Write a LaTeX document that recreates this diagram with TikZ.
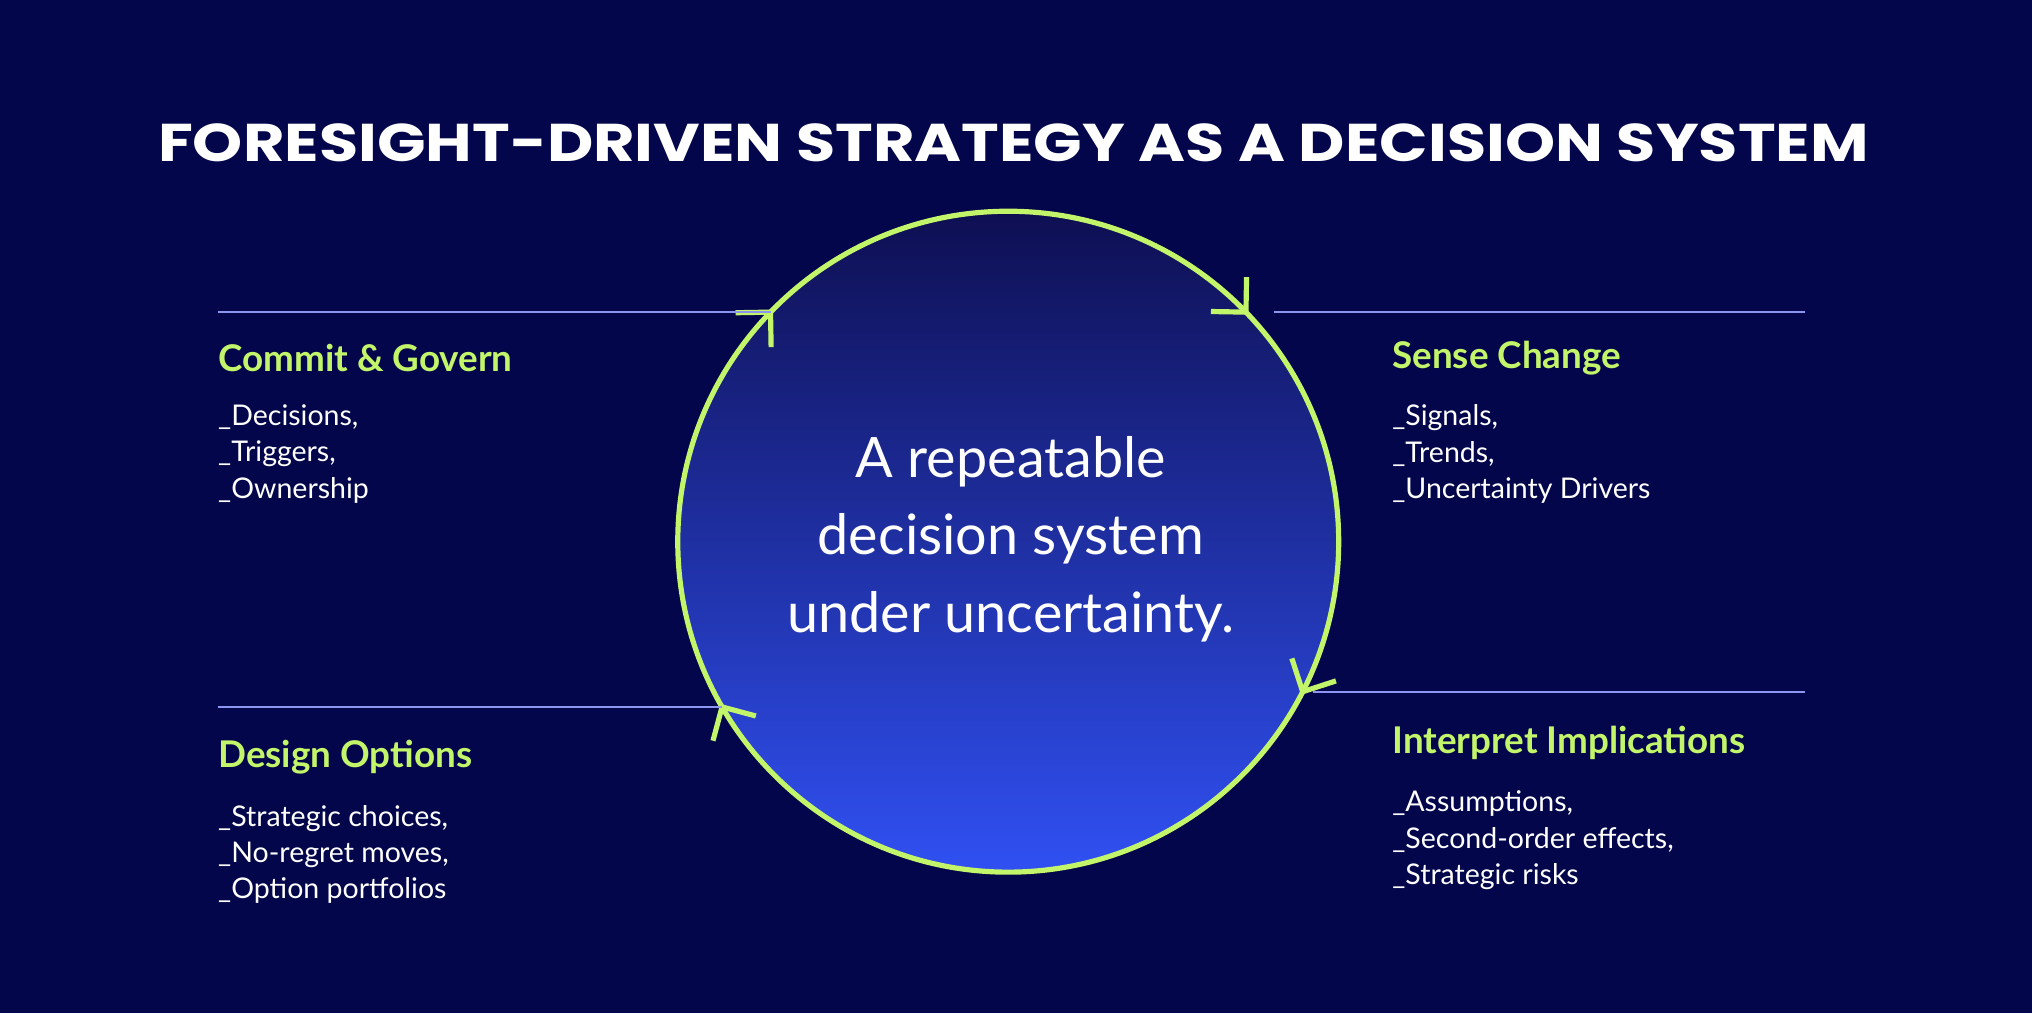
\documentclass[tikz,border=0pt]{standalone}
\usepackage{fontspec}
\usepackage{graphicx}
\usetikzlibrary{calc}
\setmainfont{Lato}
\newfontfamily\titlefont{Poppins}
\definecolor{bg}{HTML}{03064A}
\definecolor{lime}{HTML}{C3F56A}
\definecolor{rule}{HTML}{8C96F0}
\definecolor{ctop}{HTML}{0E0F52}
\definecolor{cbot}{HTML}{3050F2}
\begin{document}
\begin{tikzpicture}[x=0.5pt,y=0.5pt,
  head/.style={anchor=west,inner sep=0,text=lime,font=\fontsize{14.2}{16}\selectfont\bfseries},
  items/.style={anchor=north west,inner sep=0,text=white,align=left,font=\fontsize{11}{14}\selectfont},
  sep/.style={draw=rule,line width=0.8pt},
  chev/.style={draw=lime,line width=2pt,line cap=butt}]
\fill[bg] (0,0) rectangle (1568,782);
\useasboundingbox (0,0) rectangle (1568,782);
\node[text=white,font=\titlefont\fontsize{20.5}{24}\selectfont\bfseries] (title) at (782,672) {\scalebox{1.2}[1]{FORESIGHT-DRIVEN STRATEGY AS A DECISION SYSTEM}};
% circle
\coordinate (c) at (778,364);
\begin{scope}
\clip (c) circle (255);
\shade[top color=ctop,bottom color=cbot] (523,109) rectangle (1033,619);
\end{scope}
\node[circle,draw=lime,line width=2pt,minimum size=255pt,inner sep=0] (cyc) at (c) {};
\node[text=white,align=center,font=\fontsize{21.5}{30}\selectfont] (mid) at (780,366) {A repeatable\\decision system\\under uncertainty.};
% chevrons
\foreach \t/\n in {136/a,44/b,-27/d,210/e}{
  \coordinate (\n) at ($(c)+(\t:255)$);
  \draw[chev] ($(\n)+(\t+45:27)$) -- (\n) -- ($(\n)+(\t+135:27)$);
}
% rules
\coordinate (l1) at (168,0); \draw[sep] (l1 |- a) -- (a);
\coordinate (r1) at (1393,0); \coordinate (b1) at ($(b)+(22,0)$); \draw[sep] (b1) -- (r1 |- b1);
\coordinate (d1) at ($(d)+(8,0)$); \draw[sep] (d1) -- (r1 |- d1);
\draw[sep] (l1 |- e) -- (e);
% texts
\node[head] (h1) at (168,506) {Commit \& Govern};
\node[items] (i1) at (168,470) {\_Decisions,\\\_Triggers,\\\_Ownership};
\node[head] (h2) at (1074,506) {Sense Change};
\node[items] (i2) at (1074,470) {\_Signals,\\\_Trends,\\\_Uncertainty Drivers};
\node[head] (h3) at (168,198) {Design Options};
\node[items] (i3) at (168,161) {\_Strategic choices,\\\_No-regret moves,\\\_Option portfolios};
\node[head] (h4) at (1074,209) {Interpret Implications};
\node[items] (i4) at (1074,172) {\_Assumptions,\\\_Second-order effects,\\\_Strategic risks};
\end{tikzpicture}
\end{document}
